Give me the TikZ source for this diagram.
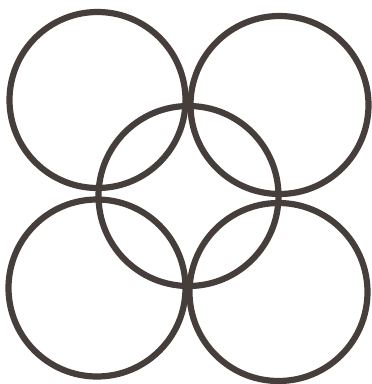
\documentclass[tikz,border=0pt]{standalone}
\definecolor{ring}{HTML}{463E3A}
\begin{document}
\begin{tikzpicture}[x=1pt,y=-1pt,ringstyle/.style={draw=ring,line width=6.2pt}]
\useasboundingbox[fill=white] (0,0) rectangle (372,384);
\draw[ringstyle] (97.5,100) circle[radius=88];
\draw[ringstyle] (279.5,105) circle[radius=89];
\draw[ringstyle] (188.5,196) circle[radius=90];
\draw[ringstyle] (97,288) circle[radius=88.5];
\draw[ringstyle] (278.5,292) circle[radius=89];
\end{tikzpicture}
\end{document}
